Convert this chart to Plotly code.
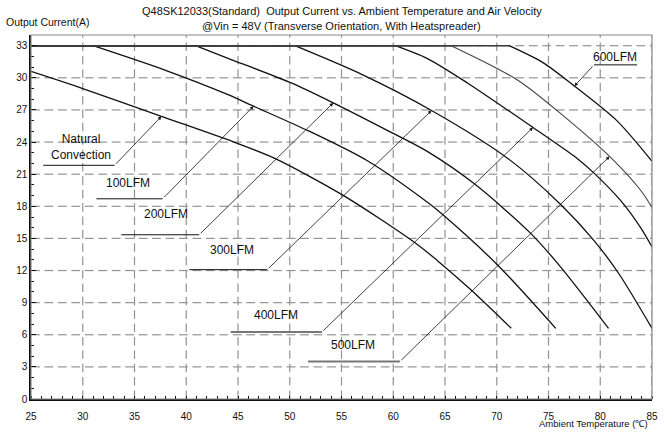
import numpy as np
import plotly.graph_objects as go

# Derating curves: ambient temperature (degC) vs. maximum output current (A)
temp_nc = [25, 30, 37.6, 44.6, 48.5, 55.2, 62.1, 64.3, 67.5, 71.4]
curr_nc = [30.6, 29.0, 26.4, 24.0, 22.5, 19.0, 14.6, 12.9, 10.2, 6.6]

temp_100 = [25, 31.0, 38, 44.1, 46.5, 51.8, 57.5, 63.4, 64.8, 70.1, 75.7]
curr_100 = [33, 33, 30.7, 28.4, 27.35, 25.05, 22.25, 18.3, 17.2, 12.5, 6.6]

temp_200 = [25, 40.9, 44.1, 50.2, 54.2, 59.0, 63.4, 67.9, 73.3, 76.2, 80.8]
curr_200 = [33, 33, 31.8, 29.5, 27.66, 25.3, 23.06, 20.05, 15.45, 12.3, 6.6]

temp_300 = [25, 50.5, 57.0, 63.7, 71.1, 76.2, 79.4, 81.8, 85]
curr_300 = [33, 33, 30.3, 26.95, 22.45, 18.15, 14.8, 11.7, 6.6]

temp_400 = [25, 60.2, 63.3, 67.2, 73.5, 77.8, 79.4, 82.0, 83.9, 85]
curr_400 = [33, 33, 31.8, 29.5, 25.36, 22.45, 21.1, 18.5, 16.0, 14.2]

temp_500 = [25, 65.6, 72.0, 76.5, 80.9, 83.9, 85]
curr_500 = [33, 33, 29.8, 26.4, 22.66, 19.5, 17.9]

temp_600 = [25, 71.2, 74.5, 77.5, 81.6, 85]
curr_600 = [33, 33, 31.4, 29.23, 26.0, 22.2]

x_ticks = [25, 30, 35, 40, 45, 50, 55, 60, 65, 70, 75, 80, 85]
y_ticks = [0, 3, 6, 9, 12, 15, 18, 21, 24, 27, 30, 33]

X_RANGE = [25, 85]
Y_RANGE = [0, 34]
FONT = "Liberation Sans, Arial, sans-serif"
GRID_COLOR = "#707070"

series = [
    ("Natural Convection", temp_nc, curr_nc, "#111111", 1.3),
    ("100LFM", temp_100, curr_100, "#111111", 1.3),
    ("200LFM", temp_200, curr_200, "#111111", 1.3),
    ("300LFM", temp_300, curr_300, "#111111", 1.3),
    ("400LFM", temp_400, curr_400, "#111111", 1.3),
    ("500LFM", temp_500, curr_500, "#444444", 1.1),
    ("600LFM", temp_600, curr_600, "#111111", 1.3),
]

fig = go.Figure()


def dash_runs(lo, hi, dash, gap):
    """Start/end pairs of the dashes of a dashed line running from lo to hi."""
    starts = np.arange(lo, hi, dash + gap)
    return [(float(s), float(min(s + dash, hi))) for s in starts]


# dashed grid at every major tick, built from short solid runs beneath the curves
gx, gy = [], []
for xv in x_ticks[1:]:
    for a, b in dash_runs(Y_RANGE[0], Y_RANGE[1], 0.8, 0.45):
        gx += [xv, xv, None]
        gy += [a, b, None]
for yv in y_ticks[1:]:
    for a, b in dash_runs(X_RANGE[0], X_RANGE[1], 0.85, 0.45):
        gx += [a, b, None]
        gy += [yv, yv, None]
fig.add_trace(go.Scatter(x=gx, y=gy, mode="lines", connectgaps=False,
                         line=dict(color=GRID_COLOR, width=1.2),
                         opacity=0.75, showlegend=False, hoverinfo="skip"))

for name, xs, ys, color, width in series:
    # flat full-load segment up to the derating knee, then a smooth derating curve
    knee = max(i for i, v in enumerate(ys) if v == max(ys))
    if knee > 0:
        fig.add_trace(go.Scatter(x=xs[:knee + 1], y=ys[:knee + 1], mode="lines",
                                 line=dict(color="#3a3a3a", width=1.6),
                                 showlegend=False, hoverinfo="skip"))
    fig.add_trace(go.Scatter(x=xs[knee:], y=ys[knee:], mode="lines", name=name,
                             line=dict(color=color, width=width, shape="spline", smoothing=0.8),
                             showlegend=False, hoverinfo="skip"))

# Curve labels with leader lines: (text, label x, label y, leader start x,
# leader corner x, leader y, arrow tip x, arrow tip y, leader colour, width)
labels = [
    ("Natural<br>Convection", 29.81, 23.5, 26.18, 33.08, 21.83, temp_nc[2], curr_nc[2], "#111111", 1.0),
    ("100LFM", 34.36, 20.15, 31.32, 37.72, 18.70, temp_100[4], curr_100[4], "#111111", 1.0),
    ("200LFM", 38.05, 17.30, 33.72, 41.25, 15.34, temp_200[4], curr_200[4], "#111111", 1.0),
    ("300LFM", 44.42, 13.92, 40.29, 47.82, 12.08, temp_300[3], curr_300[3], "#111111", 1.0),
    ("400LFM", 48.63, 7.88, 44.30, 53.11, 6.26, temp_400[4], curr_400[4], "#777777", 2.0),
    ("500LFM", 56.09, 5.03, 51.76, 60.64, 3.50, temp_500[4], curr_500[4], "#777777", 2.0),
    ("600LFM", 81.47, 31.99, 83.56, 79.39, 31.21, temp_600[3], curr_600[3], "#111111", 1.0),
]

shapes = [dict(type="rect", xref="paper", yref="paper", x0=0, y0=0, x1=1, y1=1,
               line=dict(color="#8a8a8a", width=1.2), fillcolor="rgba(0,0,0,0)")]

annotations = []
for text, lx, ly, hx0, hx1, hy, tx, ty, lc, lw in labels:
    annotations.append(dict(x=lx, y=ly, xref="x", yref="y", text=text, showarrow=False,
                            font=dict(family=FONT, size=12, color="#111111")))
    shapes.append(dict(type="line", xref="x", yref="y", x0=hx0, x1=hx1, y0=hy, y1=hy,
                       line=dict(color=lc, width=lw)))
    annotations.append(dict(x=tx, y=ty, ax=hx1, ay=hy, xref="x", yref="y",
                            axref="x", ayref="y", text="", showarrow=True,
                            arrowhead=2, arrowsize=0.9, arrowwidth=0.8,
                            arrowcolor="#111111", standoff=0))

annotations += [
    dict(x=0.5, y=1.0, xref="paper", yref="paper", yanchor="bottom", yshift=16,
         text="Q48SK12033(Standard)  Output Current vs. Ambient Temperature and Air Velocity",
         showarrow=False, font=dict(family=FONT, size=11, color="#111111")),
    dict(x=0.5, y=1.0, xref="paper", yref="paper", yanchor="bottom", yshift=1,
         text="@Vin = 48V (Transverse Orientation, With Heatspreader)",
         showarrow=False, font=dict(family=FONT, size=11, color="#111111")),
    dict(x=0, y=1.0, xref="paper", yref="paper", xanchor="left", yanchor="bottom",
         xshift=-27, yshift=5, text="Output Current(A)", showarrow=False,
         font=dict(family=FONT, size=10.5, color="#111111")),
    dict(x=1, y=0, xref="paper", yref="paper", xanchor="right", yanchor="middle",
         xshift=-2, yshift=-24, text="Ambient Temperature (℃)", showarrow=False,
         font=dict(family=FONT, size=9.5, color="#111111")),
]

fig.update_layout(
    width=670, height=434,
    margin=dict(l=31, r=14, t=35, b=30),
    paper_bgcolor="white", plot_bgcolor="white",
    font=dict(family=FONT, size=10, color="#111111"),
    shapes=shapes, annotations=annotations,
    xaxis=dict(range=X_RANGE, tickmode="array", tickvals=x_ticks, ticks="outside", ticklen=7,
               tickcolor="rgba(0,0,0,0)", showline=True, linecolor="#111111", linewidth=1.5,
               zeroline=False, showgrid=False,
               minor=dict(dtick=1, ticks="inside", ticklen=3, tickcolor="#111111")),
    yaxis=dict(range=Y_RANGE, tickmode="array", tickvals=y_ticks, ticks="inside", ticklen=5,
               tickcolor="#111111", showline=True, linecolor="#111111", linewidth=1.5,
               zeroline=False, showgrid=False,
               minor=dict(dtick=1, ticks="inside", ticklen=3, tickcolor="#111111")),
)

fig.write_html("out.html")
